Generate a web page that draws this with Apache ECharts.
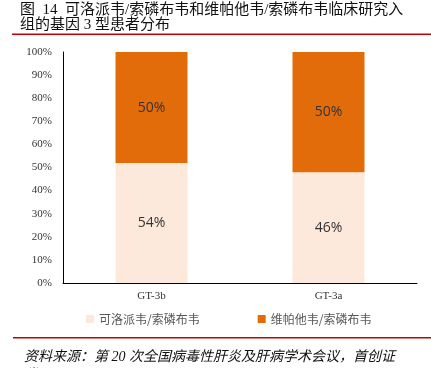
<!DOCTYPE html>
<html>
<head>
<meta charset="utf-8">
<script src="https://cdn.jsdelivr.net/npm/echarts@6/dist/echarts.min.js"></script>
<style>
  html, body { margin: 0; padding: 0; background: #fff; }
  #chart { width: 431px; height: 368px; }
</style>
</head>
<body>
<div id="chart"></div>
<script>
// genotype groups
const categories = ["GT-3b", "GT-3a"];
// share of patients (%) in each trial, as labelled
const sofVel = [54, 46]; // 可洛派韦/索磷布韦
const velSof = [50, 50]; // 维帕他韦/索磷布韦
const seriesNames = ["可洛派韦/索磷布韦", "维帕他韦/索磷布韦"];

const cjk = "'Liberation Serif', 'Noto Sans CJK SC', serif";

// 100% stacked: each bar normalized to its column total
const share = (arr, i) => arr[i] / (sofVel[i] + velSof[i]) * 100;

const chart = echarts.init(document.getElementById("chart"));

const labelStyle = (src) => ({
    show: true,
    position: "inside",
    color: "#333",
    fontSize: 14,
    fontFamily: "'Open Sans', sans-serif",
    formatter: (p) => src[p.dataIndex] + "%",
});

chart.setOption({
    animation: false,
    title: {
        text: "图  14  可洛派韦/索磷布韦和维帕他韦/索磷布韦临床研究入\n组的基因 3 型患者分布",
        left: 20,
        top: 3,
        padding: 0,
        textStyle: {
            color: "#111",
            fontSize: 15,
            fontWeight: "normal",
            fontFamily: cjk,
            lineHeight: 15,
        },
    },
    grid: { left: 63, right: 14, top: 52, bottom: 85 },
    legend: {
        left: 81,
        top: 308,
        itemWidth: 8,
        itemHeight: 8,
        itemGap: 58,
        icon: "rect",
        textStyle: { color: "#595959", fontSize: 12, fontFamily: "'Noto Sans CJK SC', sans-serif" },
        data: seriesNames,
    },
    xAxis: {
        type: "category",
        data: categories,
        axisTick: { show: false },
        axisLine: { lineStyle: { color: "#000", width: 1 } },
        axisLabel: { color: "#333", fontSize: 11, fontFamily: "'Liberation Serif', serif", margin: 8 },
    },
    yAxis: {
        type: "value",
        min: 0,
        max: 100,
        interval: 10,
        splitLine: { show: false },
        axisTick: { show: false },
        axisLine: { show: true, lineStyle: { color: "#000", width: 1 } },
        axisLabel: { color: "#333", fontSize: 11, fontFamily: "'Liberation Serif', serif", formatter: "{value}%", margin: 11 },
    },
    series: [
        {
            name: seriesNames[0],
            type: "bar",
            stack: "total",
            barWidth: 72,
            data: categories.map((c, i) => share(sofVel, i)),
            itemStyle: { color: "#FDE9DB" },
            label: labelStyle(sofVel),
        },
        {
            name: seriesNames[1],
            type: "bar",
            stack: "total",
            barWidth: 72,
            data: categories.map((c, i) => share(velSof, i)),
            itemStyle: { color: "#E36C0A" },
            label: labelStyle(velSof),
        },
    ],
    graphic: [
        { type: "rect", shape: { x: 12, y: 33.5, width: 419, height: 1.5 }, style: { fill: "#C00000" } },
        { type: "rect", shape: { x: 13, y: 337, width: 418, height: 1.5 }, style: { fill: "#C00000" } },
        {
            type: "text",
            left: 24,
            top: 348,
            style: {
                text: "资料来源：第 20 次全国病毒性肝炎及肝病学术会议，首创证\n券",
                fill: "#111",
                font: "italic 14px " + cjk,
                lineHeight: 18,
            },
        },
    ],
});
</script>
</body>
</html>
